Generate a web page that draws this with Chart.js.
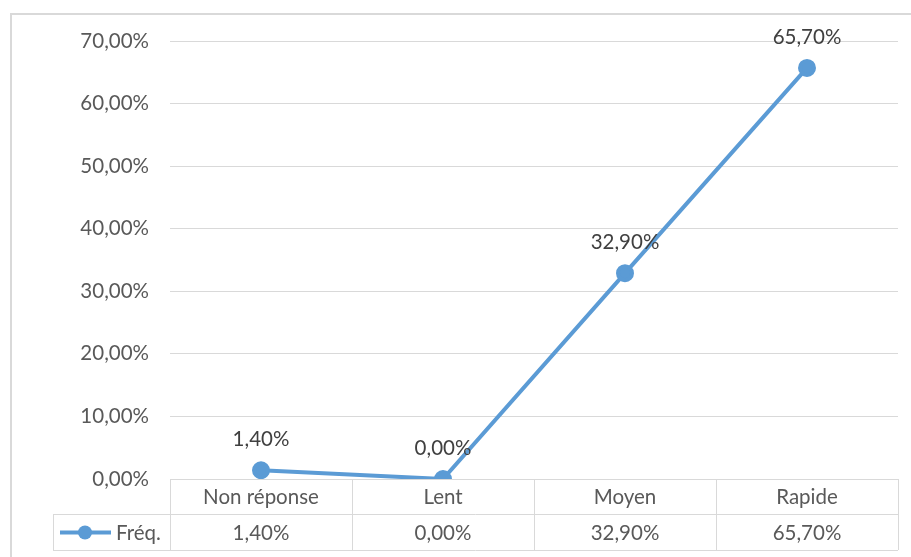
<!DOCTYPE html>
<html>
<head>
    <title>Fréq.</title>
    <script src="https://cdn.jsdelivr.net/npm/chart.js@4.4.0/dist/chart.umd.min.js"></script>
    <style>
        body { margin: 0; background: #fff; }
    </style>
</head>
<body>
    <canvas id="freqChart" width="911" height="557"></canvas>

    <script>
        // données
        const categories = ['Non réponse', 'Lent', 'Moyen', 'Rapide'];
        const seriesName = 'Fréq.';
        const freqValues = [1.4, 0, 32.9, 65.7];
        const yTicks = [0, 10, 20, 30, 40, 50, 60, 70];

        const FONT = 'Lato, "Open Sans", sans-serif';
        const FONT_SIZE = 20.5;
        const LINE_COLOR = '#5b9bd5';
        const GRID_COLOR = '#d9d9d9';

        function pct(v) {
            return v.toFixed(2).replace('.', ',') + '%';
        }

        // cadre extérieur + tableau de données sous le graphique
        const tablePlugin = {
            id: 'dataTable',
            beforeDraw(chart) {
                const ctx = chart.ctx;
                ctx.save();
                ctx.strokeStyle = GRID_COLOR;
                ctx.lineWidth = 2;
                ctx.beginPath();
                ctx.moveTo(11, chart.height);
                ctx.lineTo(11, 14);
                ctx.lineTo(chart.width, 14);
                ctx.stroke();
                ctx.restore();
            },
            afterDraw(chart) {
                const ctx = chart.ctx;
                const x = chart.scales.x;
                const area = chart.chartArea;
                const band = (area.right - area.left) / categories.length;
                const row1 = area.bottom;
                const row2 = row1 + 35;
                const row3 = row2 + 36;
                const legendLeft = 53;

                ctx.save();
                ctx.strokeStyle = GRID_COLOR;
                ctx.lineWidth = 1;
                ctx.beginPath();
                ctx.moveTo(legendLeft, row2 + 0.5); ctx.lineTo(area.right, row2 + 0.5);
                ctx.moveTo(legendLeft, row3 + 0.5); ctx.lineTo(area.right, row3 + 0.5);
                ctx.moveTo(legendLeft + 0.5, row2); ctx.lineTo(legendLeft + 0.5, row3);
                for (let i = 0; i <= categories.length; i++) {
                    const bx = Math.round(area.left + band * i) + 0.5;
                    ctx.moveTo(bx, row1); ctx.lineTo(bx, row3);
                }
                ctx.stroke();

                ctx.fillStyle = '#595959';
                ctx.font = FONT_SIZE + 'px ' + FONT;
                ctx.textAlign = 'center';
                ctx.textBaseline = 'middle';
                categories.forEach((c, i) => {
                    const cx = x.getPixelForValue(i);
                    ctx.fillText(c, cx, (row1 + row2) / 2 + 1);
                    ctx.fillText(pct(freqValues[i]), cx, (row2 + row3) / 2 + 1);
                });

                // clé de légende
                const ly = (row2 + row3) / 2 + 0.5;
                ctx.strokeStyle = LINE_COLOR;
                ctx.lineWidth = 4;
                ctx.beginPath();
                ctx.moveTo(60, ly); ctx.lineTo(111, ly);
                ctx.stroke();
                ctx.fillStyle = LINE_COLOR;
                ctx.beginPath();
                ctx.arc(85, ly, 7, 0, Math.PI * 2);
                ctx.fill();
                ctx.fillStyle = '#595959';
                ctx.textAlign = 'left';
                ctx.fillText(seriesName, 116, ly + 1);
                ctx.restore();
            }
        };

        // étiquettes de valeurs au-dessus des points
        const labelPlugin = {
            id: 'pointLabels',
            afterDatasetsDraw(chart) {
                const ctx = chart.ctx;
                const meta = chart.getDatasetMeta(0);
                ctx.save();
                ctx.fillStyle = '#404040';
                ctx.font = FONT_SIZE + 'px ' + FONT;
                ctx.textAlign = 'center';
                ctx.textBaseline = 'middle';
                meta.data.forEach((pt, i) => {
                    ctx.fillText(pct(freqValues[i]), pt.x, pt.y - 31);
                });
                ctx.restore();
            }
        };

        new Chart(document.getElementById('freqChart'), {
            type: 'line',
            data: {
                labels: categories,
                datasets: [{
                    label: seriesName,
                    data: freqValues,
                    borderColor: LINE_COLOR,
                    backgroundColor: LINE_COLOR,
                    borderWidth: 4,
                    pointRadius: 7,
                    pointHoverRadius: 7,
                    tension: 0
                }]
            },
            options: {
                responsive: false,
                animation: false,
                layout: { padding: { left: 10, right: 13, top: 41, bottom: 78 } },
                scales: {
                    x: { display: false, offset: true },
                    y: {
                        min: 0,
                        max: 70,
                        afterBuildTicks(scale) {
                            scale.ticks = yTicks.map(v => ({ value: v }));
                        },
                        afterFit(scale) { scale.width = 160; },
                        border: { display: false },
                        grid: { color: GRID_COLOR, drawTicks: false },
                        ticks: {
                            padding: 21,
                            color: '#595959',
                            font: { family: FONT, size: FONT_SIZE },
                            callback: v => pct(v)
                        }
                    }
                },
                plugins: {
                    legend: { display: false },
                    tooltip: { enabled: false }
                }
            },
            plugins: [tablePlugin, labelPlugin]
        });
    </script>
</body>
</html>
